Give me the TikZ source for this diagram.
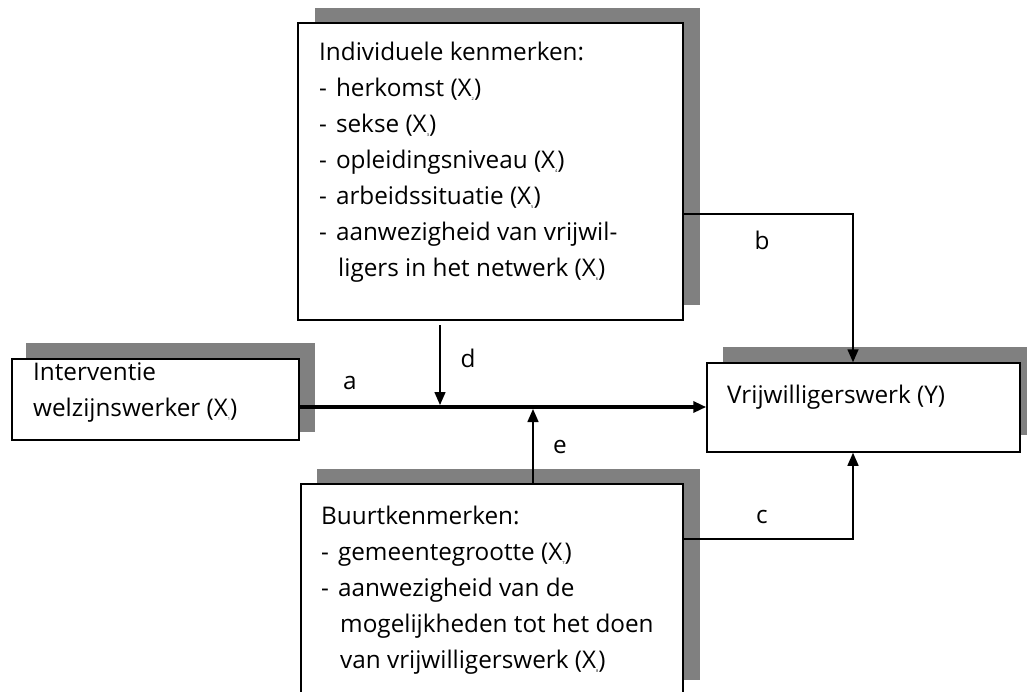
\documentclass[tikz,border=0pt]{standalone}
\usepackage{fontspec}
\setmainfont{Open Sans}
\usetikzlibrary{arrows.meta}
\newcommand{\sub}[1]{\raisebox{-4pt}{\fontsize{4pt}{4pt}\selectfont #1}}
\newcommand{\dsh}{-\hspace{9pt}}
\newcommand{\ind}{\hspace*{19pt}}
\begin{document}
\begin{tikzpicture}[x=1pt,y=-1pt,
  box/.style={draw=black,fill=white,line width=1.5pt,inner sep=0pt},
  txt/.style={anchor=north west,align=left,inner sep=0pt,font=\fontsize{24.3pt}{36pt}\selectfont},
  lbl/.style={font=\fontsize{24.3pt}{25pt}\selectfont,inner sep=0pt},
  arr/.style={line width=1.5pt,-{Triangle[length=13pt,width=11pt]}},
  thickarr/.style={line width=3.5pt,-{Triangle[length=13pt,width=11pt]}}]
\useasboundingbox (0,0) rectangle (1027,691);
\clip (0,0) rectangle (1027,691);
% shadows
\fill[black!50] (315,8) rectangle (700,305);
\fill[black!50] (26,343) rectangle (315,432);
\fill[black!50] (723,347) rectangle (1030,435);
\fill[black!50] (317,469) rectangle (700,680);
% boxes
\node[box,minimum width=385pt,minimum height=297pt] (top) at (490.5,171.5) {};
\node[box,minimum width=287pt,minimum height=81pt] (left) at (155.5,399.5) {};
\node[box,minimum width=313pt,minimum height=89pt] (right) at (863.5,407.5) {};
\node[box,minimum width=382pt,minimum height=260pt] (bot) at (492,614) {};
% texts
\node[txt] (ttop) at (319,41.5) {Individuele kenmerken:\\
\dsh herkomst (X\sub{2})\\
\dsh sekse (X\sub{3})\\
\dsh opleidingsniveau (X\sub{4})\\
\dsh arbeidssituatie (X\sub{5})\\
\dsh aanwezigheid van vrijwil-\\
\ind ligers in het netwerk (X\sub{6})};
\node[txt] (tleft) at (33,362.5) {Interventie\\ welzijnswerker (X\sub{1})};
\node[txt] (tright) at (727,384.5) {Vrijwilligerswerk (Y)};
\node[txt] (tbot) at (321,506) {Buurtkenmerken:\\
\dsh gemeentegrootte (X\sub{7})\\
\dsh aanwezigheid van de\\
\ind mogelijkheden tot het doen\\
\ind van vrijwilligerswerk (X\sub{8})};
% connectors
\coordinate (dstart) at (440,325);
\coordinate (ajoin) at (440,405);
\coordinate (ejoin) at (533,409);
\coordinate (bcorner) at (853,214);
\coordinate (ccorner) at (853,539);
\draw[thickarr] (left.east |- 0,407) -- (right.west |- 0,407);
\draw[arr] (dstart) -- (ajoin);
\draw[arr] (bot.north -| ejoin) -- (ejoin);
\draw[arr] (top.east |- bcorner) -- (bcorner) -- (right.north -| bcorner);
\draw[arr] (bot.east |- ccorner) -- (ccorner) -- (right.south -| ccorner);
% labels
\node[lbl] (la) at (350,383) {a};
\node[lbl] (ld) at (468,358) {d};
\node[lbl] (le) at (560,447) {e};
\node[lbl] (lb) at (762,240) {b};
\node[lbl] (lc) at (762,517) {c};
\end{tikzpicture}
\end{document}
